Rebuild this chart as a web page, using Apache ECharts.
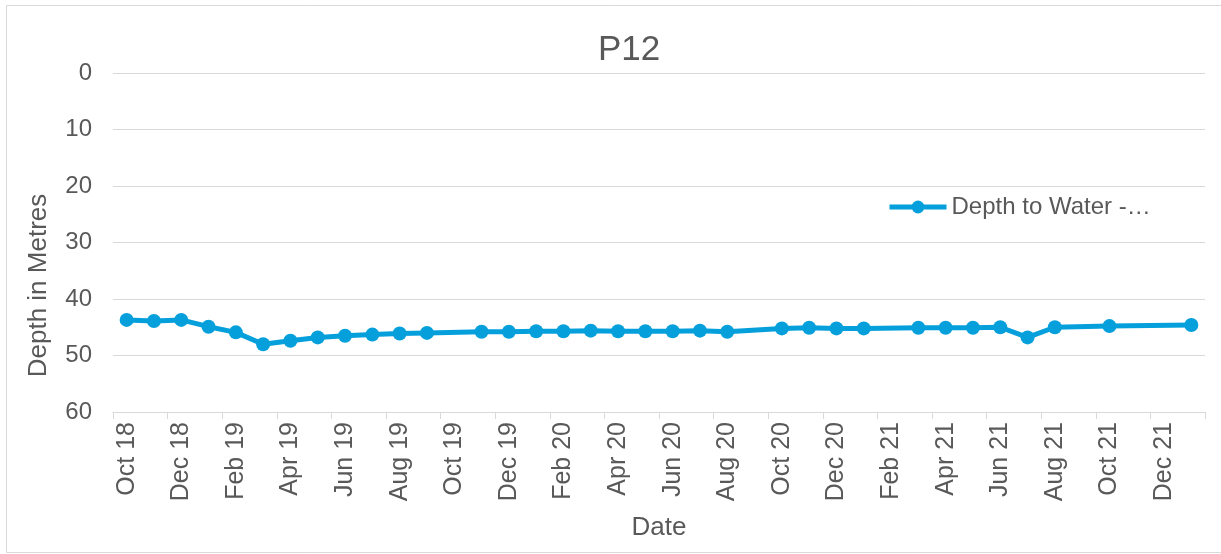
<!DOCTYPE html>
<html>
<head>
<meta charset="utf-8">
<script src="https://cdn.jsdelivr.net/npm/echarts@6/dist/echarts.min.js"></script>
<style>
html,body{margin:0;padding:0;background:#fff;}
#chart{width:1221px;height:554px;}
</style>
</head>
<body>
<div id="chart"></div>
<script>
var months = ['Oct 18','Nov 18','Dec 18','Jan 19','Feb 19','Mar 19','Apr 19','May 19','Jun 19','Jul 19','Aug 19','Sep 19',
  'Oct 19','Nov 19','Dec 19','Jan 20','Feb 20','Mar 20','Apr 20','May 20','Jun 20','Jul 20','Aug 20','Sep 20',
  'Oct 20','Nov 20','Dec 20','Jan 21','Feb 21','Mar 21','Apr 21','May 21','Jun 21','Jul 21','Aug 21','Sep 21',
  'Oct 21','Nov 21','Dec 21','Jan 22'];
var depthToWater = [43.7,43.9,43.7,44.9,45.9,48.0,47.4,46.8,46.5,46.3,46.1,46.0,
  null,45.8,45.8,45.7,45.7,45.6,45.7,45.7,45.7,45.6,45.8,null,
  45.2,45.1,45.2,45.2,null,45.1,45.1,45.1,45.0,46.8,45.0,null,
  44.8,null,null,44.6];
var yTicks = [0,10,20,30,40,50,60];
var seriesName = 'Depth to Water -…';
var titleText = 'P12';

var textColor = '#595959';
var lineColor = '#05A0DB';
var fontFam = '"Liberation Sans", Arial, sans-serif';
var chart = echarts.init(document.getElementById('chart'));
chart.setOption({
  animation: false,
  backgroundColor: '#fff',
  textStyle: {fontFamily: fontFam},
  title: {
    text: titleText,
    left: 593, top: 28,
    textStyle: {fontSize: 35, fontWeight: 'normal', color: textColor, fontFamily: fontFam}
  },
  graphic: [{
    type: 'rect', shape: {x: 6.5, y: 5.5, width: 1230, height: 547},
    style: {fill: 'none', stroke: '#d9d9d9', lineWidth: 1}, silent: true
  }],
  legend: {
    left: 882, top: 190,
    itemWidth: 57, itemHeight: 16, itemGap: 4,
    lineStyle: {width: 5, color: lineColor},
    itemStyle: {color: lineColor},
    textStyle: {fontSize: 24, color: textColor, fontFamily: fontFam},
    data: [seriesName]
  },
  grid: {left: 113, right: 16, top: 73, bottom: 142, containLabel: false},
  xAxis: {
    type: 'category',
    data: months,
    boundaryGap: true,
    name: 'Date', nameLocation: 'middle', nameGap: 103,
    nameTextStyle: {fontSize: 26, color: textColor, fontFamily: fontFam},
    axisLine: {show: true, onZero: false, lineStyle: {color: '#d9d9d9', width: 1}},
    axisTick: {show: true, interval: 1, length: 7, lineStyle: {color: '#d9d9d9'}},
    axisLabel: {interval: 1, rotate: 90, margin: 10, fontSize: 25, color: textColor, fontFamily: fontFam},
    splitLine: {show: false}
  },
  yAxis: {
    type: 'value', inverse: true, min: yTicks[0], max: yTicks[yTicks.length-1], interval: 10,
    name: 'Depth in Metres', nameLocation: 'middle', nameGap: 61,
    nameTextStyle: {fontSize: 26, color: textColor, fontFamily: fontFam, padding: [0, 86, 0, 0]},
    axisLine: {show: false}, axisTick: {show: false},
    axisLabel: {margin: 21, fontSize: 24, color: textColor, fontFamily: fontFam},
    splitLine: {show: true, lineStyle: {color: '#d9d9d9', width: 1}}
  },
  series: [{
    name: seriesName, type: 'line', data: depthToWater, connectNulls: true,
    symbol: 'circle', symbolSize: 14,
    lineStyle: {color: lineColor, width: 5},
    itemStyle: {color: lineColor}
  }]
});
</script>
</body>
</html>
